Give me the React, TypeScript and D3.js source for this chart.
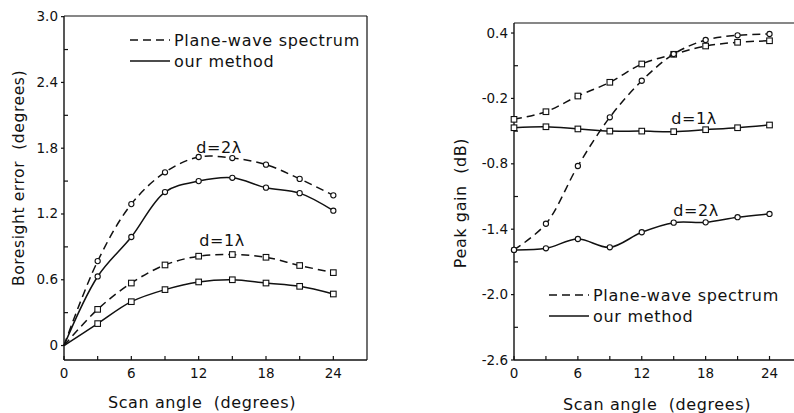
import React from "react";
import * as d3 from "d3";

// scan angles (degrees)
const angles = [0, 3, 6, 9, 12, 15, 18, 21, 24];

// left panel: boresight error (degrees)
const borePws2 = [0, 0.77, 1.29, 1.58, 1.72, 1.71, 1.65, 1.52, 1.37];
const boreOur2 = [0, 0.63, 0.99, 1.4, 1.5, 1.53, 1.44, 1.39, 1.23];
const borePws1 = [0, 0.33, 0.57, 0.735, 0.815, 0.83, 0.805, 0.73, 0.665];
const boreOur1 = [0, 0.2, 0.4, 0.51, 0.58, 0.6, 0.57, 0.54, 0.47];

// right panel: peak gain (dB)
const gainPws1 = [-0.392, -0.322, -0.178, -0.052, 0.116, 0.205, 0.281, 0.315, 0.329];
const gainPws2 = [-1.59, -1.35, -0.82, -0.373, -0.038, 0.207, 0.336, 0.379, 0.391];
const gainOur1 = [-0.469, -0.46, -0.48, -0.5, -0.5, -0.505, -0.487, -0.469, -0.444];
const gainOur2 = [-1.59, -1.575, -1.49, -1.566, -1.428, -1.34, -1.337, -1.29, -1.26];

const xTicks = [0, 6, 12, 18, 24];
const xMinor = [3, 9, 15, 21];
const boreTicks = [0, 0.6, 1.2, 1.8, 2.4, 3.0];
const boreMinor = [0.3, 0.9, 1.5, 2.1, 2.7];
const gainTicks = [-2.6, -2.0, -1.4, -0.8, -0.2, 0.4];
const gainMinor = [-2.3, -1.7, -1.1, -0.5, 0.1];

const FONT = "DejaVu Sans, sans-serif";
const INK = "#111";
const GAP = "\u00a0\u00a0";

type Series = { values: number[]; dashed: boolean; marker: "circle" | "square"; markFirst: boolean };

function Panel(props: {
  x0: number; x1: number; xMax: number;
  y0: number; y1: number; yMin: number; yMax: number;
  yTicks: number[]; yMinor: number[]; fmt: (v: number) => string;
  series: Series[]; rightBorder: boolean;
}) {
  const { x0, x1, xMax, y0, y1, yMin, yMax } = props;
  const x = d3.scaleLinear().domain([0, xMax]).range([x0, x1]);
  const y = d3.scaleLinear().domain([yMin, yMax]).range([y1, y0]);
  const line = d3.line<number>()
    .x((_, i) => x(angles[i]))
    .y((d) => y(d))
    .curve(d3.curveCatmullRom.alpha(0.5));

  return (
    <g>
      <line x1={x0} x2={x0} y1={y0} y2={y1} stroke={INK} strokeWidth={1.4} />
      <line x1={x0} x2={x1} y1={y1} y2={y1} stroke={INK} strokeWidth={1.4} />
      <line x1={x0} x2={x1} y1={y0} y2={y0} stroke={INK} strokeWidth={1.2} />
      {props.rightBorder && <line x1={x1} x2={x1} y1={y0} y2={y1} stroke={INK} strokeWidth={1.2} />}
      {xTicks.map((t) => (
        <g key={"xt" + t}>
          <line x1={x(t)} x2={x(t)} y1={y1} y2={y1 - 4} stroke={INK} strokeWidth={1.2} />
          <text x={x(t)} y={y1 + 18} textAnchor="middle" fontSize={13.5} fontFamily={FONT} fill={INK}>{t}</text>
        </g>
      ))}
      {xMinor.map((t) => (
        <line key={"xm" + t} x1={x(t)} x2={x(t)} y1={y1} y2={y1 - 4} stroke={INK} strokeWidth={1.2} />
      ))}
      {props.yTicks.map((t) => (
        <g key={"yt" + t}>
          <line x1={x0} x2={x0 - 3} y1={y(t)} y2={y(t)} stroke={INK} strokeWidth={1.2} />
          <text x={x0 - 6} y={y(t) + 4.5} textAnchor="end" fontSize={13.5} fontFamily={FONT} fill={INK}>{props.fmt(t)}</text>
        </g>
      ))}
      {props.yMinor.map((t) => (
        <line key={"ym" + t} x1={x0} x2={x0 + 4} y1={y(t)} y2={y(t)} stroke={INK} strokeWidth={1.2} />
      ))}
      {props.series.map((s, k) => (
        <g key={"s" + k}>
          <path d={line(s.values) || ""} fill="none" stroke={INK} strokeWidth={1.5}
            strokeDasharray={s.dashed ? "8,5" : undefined} />
          {s.values.map((v, i) => {
            if (i === 0 && !s.markFirst) return null;
            const cx = x(angles[i]);
            const cy = y(v);
            return s.marker === "circle" ? (
              <circle key={i} cx={cx} cy={cy} r={2.6} fill="#fff" stroke={INK} strokeWidth={1.1} />
            ) : (
              <rect key={i} x={cx - 2.8} y={cy - 2.8} width={5.6} height={5.6} fill="#fff" stroke={INK} strokeWidth={1.1} />
            );
          })}
        </g>
      ))}
    </g>
  );
}

function Legend({ x, y }: { x: number; y: number }) {
  return (
    <g fontFamily={FONT} fontSize={16} fill={INK} letterSpacing={0.7}>
      <line x1={x} x2={x + 40} y1={y} y2={y} stroke={INK} strokeWidth={1.5} strokeDasharray="8,5" />
      <text x={x + 44} y={y + 5.5}>Plane-wave spectrum</text>
      <line x1={x} x2={x + 40} y1={y + 21} y2={y + 21} stroke={INK} strokeWidth={1.5} />
      <text x={x + 44} y={y + 26.5}>our method</text>
    </g>
  );
}

export default function App() {
  const fmt1 = (v: number) => (v === 0 ? "0" : v.toFixed(1));
  return (
    <div style={{ position: "absolute", left: 0, top: 0 }}>
      <svg width={794} height={413} style={{ display: "block", background: "#fff" }}>
        <Panel x0={64} x1={367} xMax={27} y0={16} y1={360} yMin={-0.132} yMax={3.006}
          yTicks={boreTicks} yMinor={boreMinor} fmt={fmt1} rightBorder={true}
          series={[
            { values: borePws2, dashed: true, marker: "circle", markFirst: false },
            { values: boreOur2, dashed: false, marker: "circle", markFirst: false },
            { values: borePws1, dashed: true, marker: "square", markFirst: false },
            { values: boreOur1, dashed: false, marker: "square", markFirst: false },
          ]} />
        <Panel x0={514} x1={794} xMax={26.3} y0={23} y1={360} yMin={-2.6} yMax={0.492}
          yTicks={gainTicks} yMinor={gainMinor} fmt={(v) => v.toFixed(1)} rightBorder={false}
          series={[
            { values: gainPws1, dashed: true, marker: "square", markFirst: true },
            { values: gainPws2, dashed: true, marker: "circle", markFirst: true },
            { values: gainOur1, dashed: false, marker: "square", markFirst: true },
            { values: gainOur2, dashed: false, marker: "circle", markFirst: true },
          ]} />
        <Legend x={130} y={40} />
        <Legend x={549} y={295} />
        <g fontFamily={FONT} fontSize={16} fill={INK} letterSpacing={0.6}>
          <text x={219} y={153} textAnchor="middle">d=2λ</text>
          <text x={222} y={246} textAnchor="middle">d=1λ</text>
          <text x={694} y={124} textAnchor="middle">d=1λ</text>
          <text x={696} y={216} textAnchor="middle">d=2λ</text>
          <text x={202} y={408} textAnchor="middle">{"Scan angle" + GAP + "(degrees)"}</text>
          <text x={657} y={410} textAnchor="middle">{"Scan angle" + GAP + "(degrees)"}</text>
          <text transform="translate(24,178) rotate(-90)" textAnchor="middle" fontSize={15.5}>{"Boresight error" + GAP + "(degrees)"}</text>
          <text transform="translate(466,203) rotate(-90)" textAnchor="middle">{"Peak gain" + GAP + "(dB)"}</text>
        </g>
      </svg>
    </div>
  );
}
